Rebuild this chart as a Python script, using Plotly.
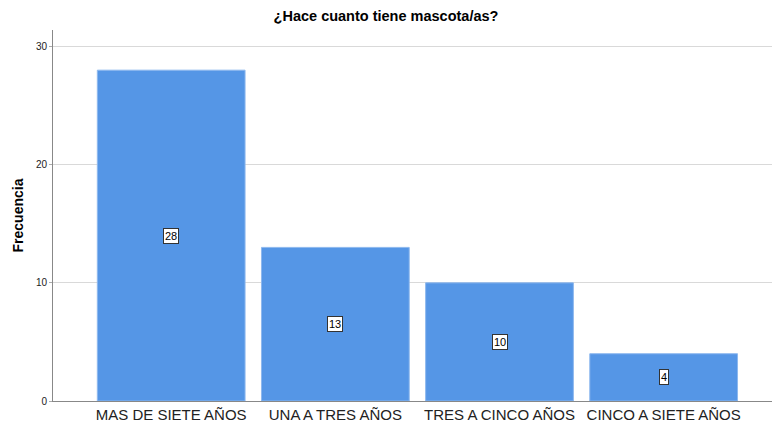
import plotly.graph_objects as go

categories = ["MAS DE SIETE AÑOS", "UNA A TRES AÑOS", "TRES A CINCO AÑOS", "CINCO A SIETE AÑOS"]
values = [28, 13, 10, 4]
y_ticks = [0, 10, 20, 30]

fig = go.Figure()
fig.add_trace(go.Bar(
    x=categories, y=values,
    marker=dict(color="#5596E6", line=dict(color="#8DB8EE", width=1)),
    width=0.9,
    hoverinfo="x+y",
))

for c, v in zip(categories, values):
    fig.add_annotation(
        x=c, y=v / 2, text=str(v), showarrow=False,
        font=dict(family="Arial, Liberation Sans", size=11, color="#000"),
        bgcolor="white", bordercolor="#333", borderwidth=1, borderpad=1,
    )

fig.update_layout(
    width=772, height=426,
    margin=dict(l=53, r=0, t=30, b=25),
    paper_bgcolor="white", plot_bgcolor="white",
    showlegend=False,
    title=dict(text="<b>¿Hace cuanto tiene mascota/as?</b>", x=0.5, xanchor="center",
               y=0.963, yanchor="middle",
               font=dict(family="Arial, Liberation Sans", size=14.5, color="#000")),
    font=dict(family="Arial, Liberation Sans", color="#222"),
)
fig.update_xaxes(
    range=[-0.72, 3.66], showgrid=False,
    showline=True, linecolor="#888", linewidth=1,
    ticks="", tickfont=dict(size=15, color="#222"),
)
fig.update_yaxes(
    range=[0, 31.4], tickvals=y_ticks,
    showgrid=True, gridcolor="#D9D9D9", gridwidth=1,
    zeroline=False,
    showline=True, linecolor="#888", linewidth=1,
    ticks="outside", ticklen=3, tickcolor="#AAA",
    tickfont=dict(size=10, color="#222"),
    title=dict(text="<b>Frecuencia</b>", font=dict(size=14, color="#000"), standoff=8),
)

fig.write_html("out.html", config={"displayModeBar": False},
               post_script="document.body.style.margin='0';document.body.style.overflow='hidden';")
